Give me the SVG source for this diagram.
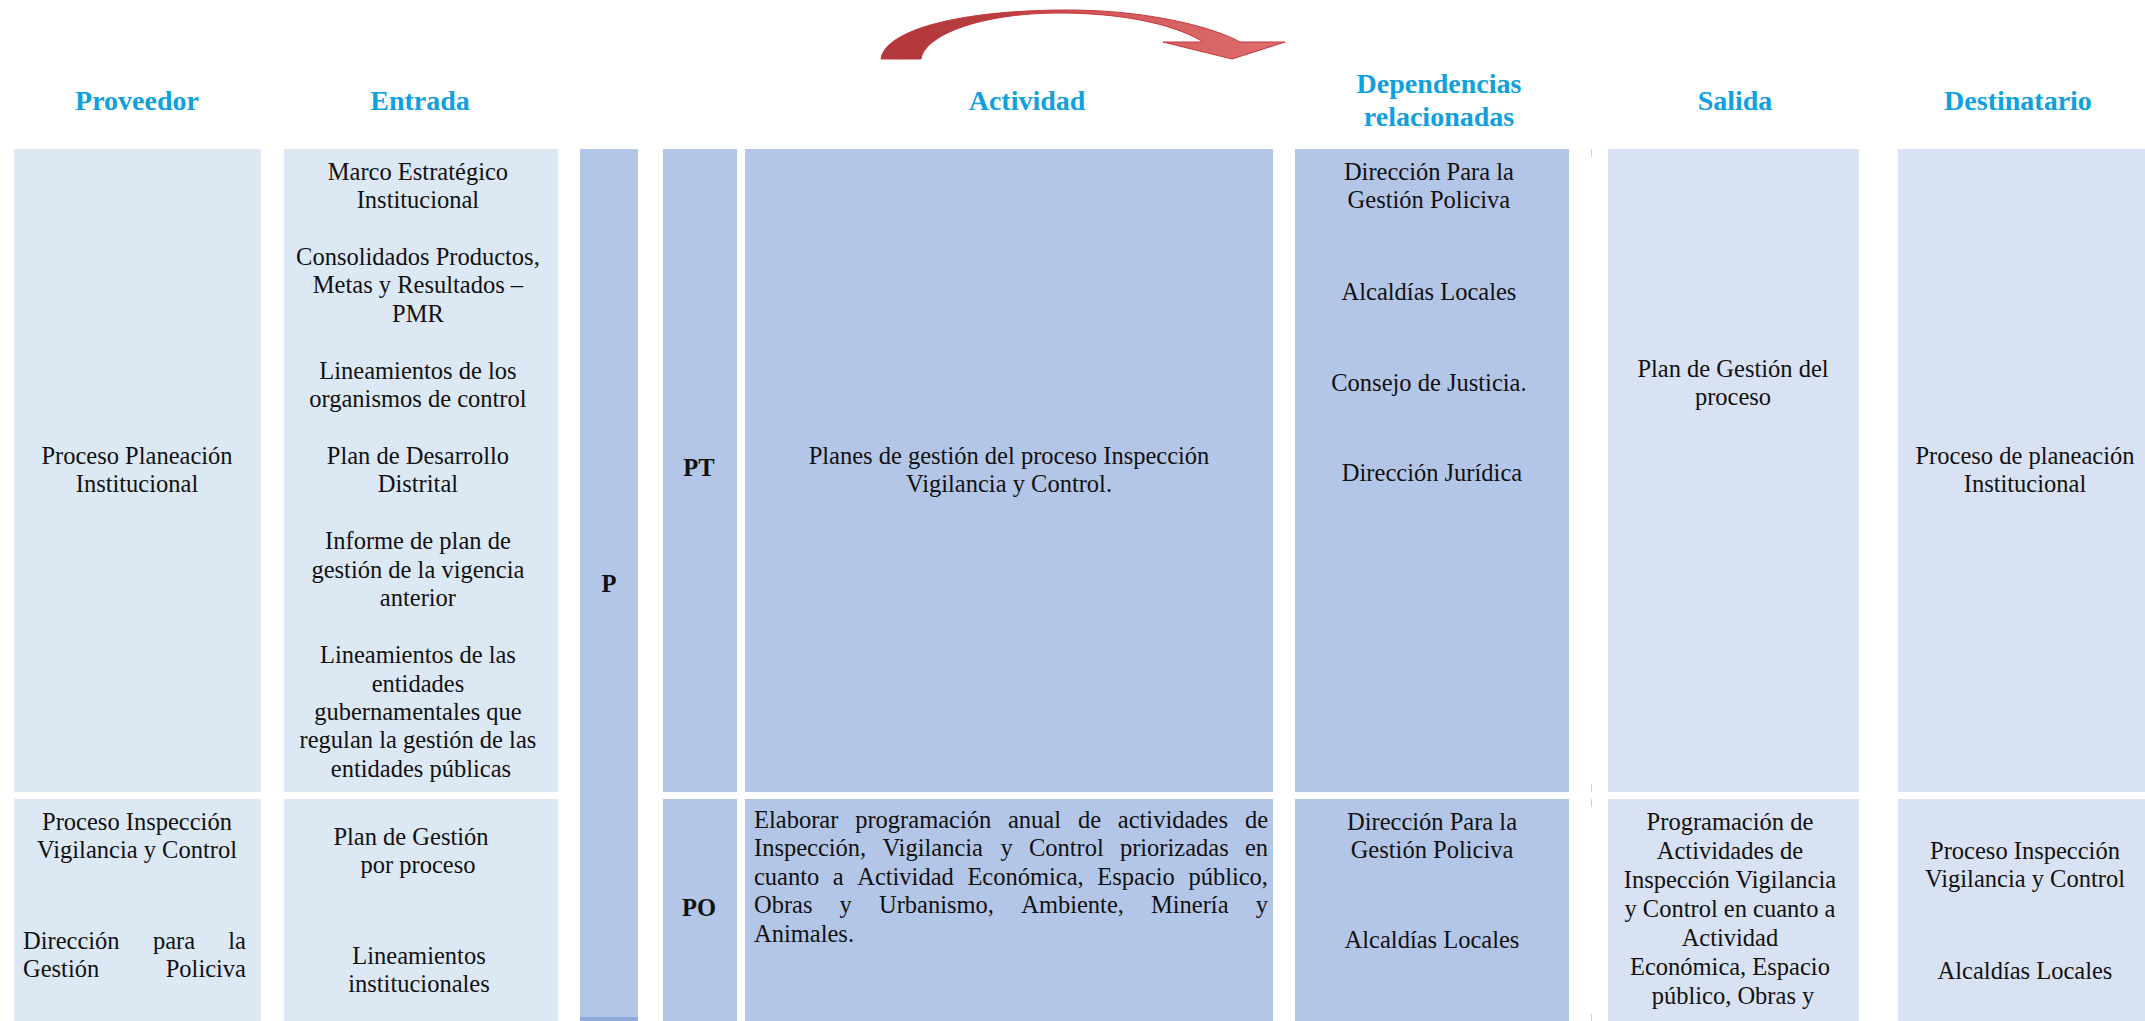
<svg xmlns="http://www.w3.org/2000/svg" width="2145" height="1021" viewBox="0 0 2145 1021">
<defs>
<linearGradient id="arrowGrad" x1="881" y1="0" x2="1285" y2="0" gradientUnits="userSpaceOnUse">
<stop offset="0" stop-color="#B1383B"/>
<stop offset="0.3" stop-color="#B93D40"/>
<stop offset="0.55" stop-color="#D35A5D"/>
<stop offset="1" stop-color="#DD6E6E"/>
</linearGradient>
<style>
.hdr{font-family:"Liberation Serif","Times New Roman",serif;font-weight:bold;font-size:28px;fill:#0FA0DE;text-anchor:middle}
.t{font-family:"Liberation Serif","Times New Roman",serif;font-size:24.5px;fill:#111}
.c{text-anchor:middle}
.e{text-anchor:end}
.b{font-weight:bold}
.lt{fill:#DDE8F5}
.lt2{fill:#D9E2F3}
.md{fill:#B4C6E7}
.tick{stroke:#C9D3E8;stroke-width:1}
</style>
</defs>
<rect width="2145" height="1021" fill="#ffffff"/>

<g id="headers">
<text class="hdr" x="137" y="110">Proveedor</text>
<text class="hdr" x="420" y="110">Entrada</text>
<text class="hdr" x="1027" y="110">Actividad</text>
<text class="hdr" x="1439" y="93">Dependencias</text>
<text class="hdr" x="1439" y="126">relacionadas</text>
<text class="hdr" x="1735" y="110">Salida</text>
<text class="hdr" x="2018" y="110">Destinatario</text>
</g>

<g id="connectors">
<path id="cycle-arrow" d="M 881 59 C 885 30, 960 10, 1067 10 C 1150 10, 1215 28, 1240 42 L 1285 42 L 1232 59 L 1163 42 L 1203 42 C 1180 27, 1130 13, 1060 13 C 980 13, 925 35, 921 59 Z" fill="url(#arrowGrad)" stroke="#C8363A" stroke-width="1"/>
</g>

<g id="phase-P">
<rect class="md" x="580" y="149" width="58" height="868"/>
<rect x="580" y="1017" width="58" height="4" fill="#8FAADC"/>
<text class="t b c" x="609" y="592">P</text>
</g>

<g id="row-PT">
<g id="pt-proveedor">
<rect class="lt" x="14" y="149" width="247" height="643"/>
<text class="t c"><tspan x="137" y="464">Proceso Planeación</tspan><tspan x="137" y="492.4">Institucional</tspan></text>
</g>
<g id="pt-entrada">
<rect class="lt" x="284" y="149" width="274" height="643"/>
<text class="t c">
<tspan x="421" y="180">Marco Estratégico</tspan>
<tspan x="421" y="208.4">Institucional</tspan>
<tspan x="421" y="265">Consolidados Productos,</tspan>
<tspan x="421" y="293.4">Metas y Resultados –</tspan>
<tspan x="421" y="322">PMR</tspan>
<tspan x="421" y="379">Lineamientos de los</tspan>
<tspan x="421" y="407.4">organismos de control</tspan>
<tspan x="421" y="464">Plan de Desarrollo</tspan>
<tspan x="421" y="492.4">Distrital</tspan>
<tspan x="421" y="549">Informe de plan de</tspan>
<tspan x="421" y="577.5">gestión de la vigencia</tspan>
<tspan x="421" y="606">anterior</tspan>
<tspan x="421" y="663">Lineamientos de las</tspan>
<tspan x="421" y="691.5">entidades</tspan>
<tspan x="421" y="720">gubernamentales que</tspan>
<tspan x="421" y="748.4">regulan la gestión de las</tspan>
<tspan x="421" y="776.8">entidades públicas</tspan>
</text>
</g>
<g id="pt-code">
<rect class="md" x="663" y="149" width="74" height="643"/>
<text class="t b c" x="699" y="476">PT</text>
</g>
<g id="pt-actividad">
<rect class="md" x="745" y="149" width="528" height="643"/>
<text class="t c"><tspan x="1009" y="464">Planes de gestión del proceso Inspección</tspan><tspan x="1009" y="492.4">Vigilancia y Control.</tspan></text>
</g>
<g id="pt-dependencias">
<rect class="md" x="1295" y="149" width="274" height="643"/>
<text class="t c">
<tspan x="1432" y="180">Dirección Para la</tspan>
<tspan x="1432" y="208.4">Gestión Policiva</tspan>
<tspan x="1432" y="300">Alcaldías Locales</tspan>
<tspan x="1432" y="391">Consejo de Justicia.</tspan>
<tspan x="1432" y="481">Dirección Jurídica</tspan>
</text>
</g>
<g id="pt-salida">
<rect class="lt2" x="1608" y="149" width="251" height="643"/>
<text class="t c"><tspan x="1733" y="377">Plan de Gestión del</tspan><tspan x="1733" y="405.4">proceso</tspan></text>
</g>
<g id="pt-destinatario">
<rect class="lt2" x="1898" y="149" width="247" height="643"/>
<text class="t c"><tspan x="2025" y="464">Proceso de planeación</tspan><tspan x="2025" y="492.4">Institucional</tspan></text>
</g>
</g>

<g id="row-PO">
<g id="po-proveedor">
<rect class="lt" x="14" y="799" width="247" height="222"/>
<text class="t c"><tspan x="137" y="830">Proceso Inspección</tspan><tspan x="137" y="858.4">Vigilancia y Control</tspan></text>
<text class="t"><tspan x="23" y="949">Dirección</tspan><tspan x="153" y="949">para</tspan></text>
<text class="t e" x="246" y="949">la</text>
<text class="t" x="23" y="977.4">Gestión</text>
<text class="t e" x="246" y="977.4">Policiva</text>
</g>
<g id="po-entrada">
<rect class="lt" x="284" y="799" width="274" height="222"/>
<text class="t c"><tspan x="411" y="845">Plan de Gestión</tspan><tspan x="418" y="873.4">por proceso</tspan></text>
<text class="t c"><tspan x="419" y="964">Lineamientos</tspan><tspan x="419" y="992.4">institucionales</tspan></text>
</g>
<g id="po-code">
<rect class="md" x="663" y="799" width="74" height="222"/>
<text class="t b c" x="699" y="916">PO</text>
</g>
<g id="po-actividad">
<rect class="md" x="745" y="799" width="528" height="222"/>
<text class="t">
<tspan x="754" y="828">Elaborar</tspan><tspan x="855.2" y="828">programación</tspan><tspan x="1008" y="828">anual</tspan><tspan x="1077.9" y="828">de</tspan><tspan x="1117.8" y="828">actividades</tspan>
</text>
<text class="t e" x="1268" y="828">de</text>
<text class="t">
<tspan x="754" y="856.4">Inspección,</tspan><tspan x="882.4" y="856.4">Vigilancia</tspan><tspan x="1000.5" y="856.4">y</tspan><tspan x="1028.9" y="856.4">Control</tspan><tspan x="1119.9" y="856.4">priorizadas</tspan>
</text>
<text class="t e" x="1268" y="856.4">en</text>
<text class="t">
<tspan x="754" y="884.8">cuanto</tspan><tspan x="832.8" y="884.8">a</tspan><tspan x="857.2" y="884.8">Actividad</tspan><tspan x="967.4" y="884.8">Económica,</tspan><tspan x="1097.3" y="884.8">Espacio</tspan>
</text>
<text class="t e" x="1268" y="884.8">público,</text>
<text class="t">
<tspan x="754" y="913.2">Obras</tspan><tspan x="839.6" y="913.2">y</tspan><tspan x="879" y="913.2">Urbanismo,</tspan><tspan x="1021.2" y="913.2">Ambiente,</tspan><tspan x="1151" y="913.2">Minería</tspan>
</text>
<text class="t e" x="1268" y="913.2">y</text>
<text class="t" x="754" y="941.6">Animales.</text>
</g>
<g id="po-dependencias">
<rect class="md" x="1295" y="799" width="274" height="222"/>
<text class="t c"><tspan x="1432" y="830">Dirección Para la</tspan><tspan x="1432" y="858.4">Gestión Policiva</tspan><tspan x="1432" y="948">Alcaldías Locales</tspan></text>
</g>
<g id="po-salida">
<rect class="lt2" x="1608" y="799" width="251" height="222"/>
<text class="t c">
<tspan x="1733" y="830">Programación de</tspan>
<tspan x="1733" y="859">Actividades de</tspan>
<tspan x="1733" y="888">Inspección Vigilancia</tspan>
<tspan x="1733" y="917">y Control en cuanto a</tspan>
<tspan x="1733" y="946">Actividad</tspan>
<tspan x="1733" y="975">Económica, Espacio</tspan>
<tspan x="1733" y="1004">público, Obras y</tspan>
</text>
</g>
<g id="po-destinatario">
<rect class="lt2" x="1898" y="799" width="247" height="222"/>
<text class="t c"><tspan x="2025" y="859">Proceso Inspección</tspan><tspan x="2025" y="887.4">Vigilancia y Control</tspan><tspan x="2025" y="979">Alcaldías Locales</tspan></text>
</g>
</g>

<g id="table-ticks">
<line class="tick" x1="1591.5" y1="149" x2="1591.5" y2="157"/>
<line class="tick" x1="1591.5" y1="784" x2="1591.5" y2="792"/>
<line class="tick" x1="1591.5" y1="799" x2="1591.5" y2="807"/>
<line class="tick" x1="1591.5" y1="1014" x2="1591.5" y2="1021"/>
</g>
</svg>
